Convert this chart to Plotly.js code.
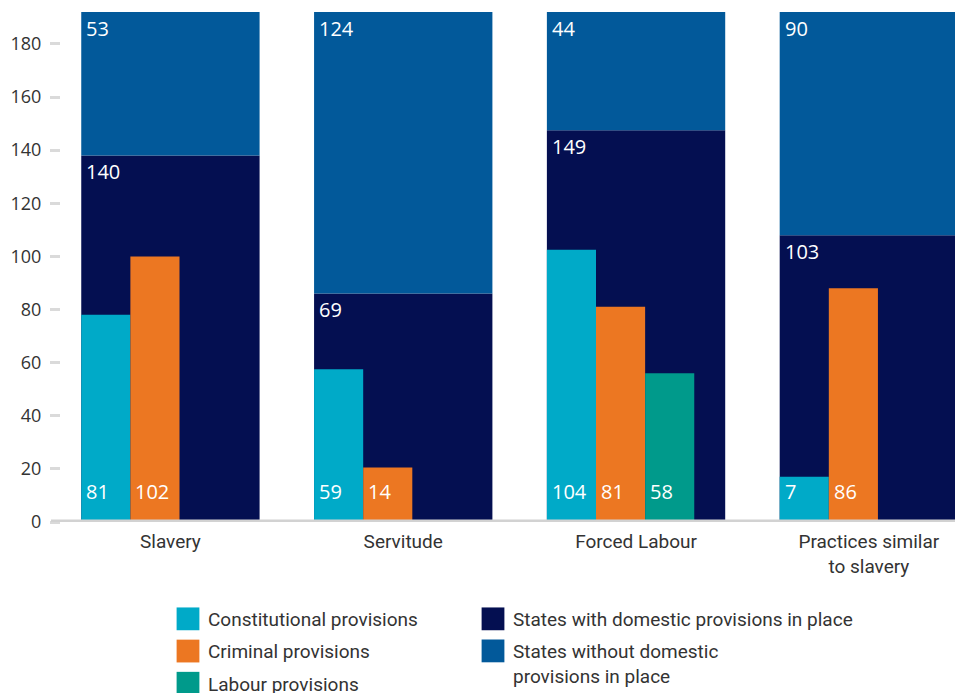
<!DOCTYPE html>
<html><head><meta charset="utf-8">
<script src="https://cdn.plot.ly/plotly-3.0.1.min.js"></script>
<style>html,body{margin:0;padding:0;background:#fff}#chart{width:955px;height:693px}</style>
</head><body><div id="chart"></div>
<script>
// ---- data (bar heights; printed labels as shown) ----
const categories = ['Slavery', 'Servitude', 'Forced Labour', 'Practices similar<br>to slavery'];
const constitutional = [78, 57.5, 102.5, 17];
const criminal = [100, 20.5, 81, 88];
const labour = [null, null, 56, null];
const withDomestic = [138, 86, 147.5, 108];
const withoutDomestic = [55, 107, 46, 85];
const constitutionalLabels = ['81', '59', '104', '7'];
const criminalLabels = ['102', '14', '81', '86'];
const labourLabels = ['', '', '58', ''];
const withDomesticLabels = ['140', '69', '149', '103'];
const withoutDomesticLabels = ['53', '124', '44', '90'];
const yTicks = [0, 20, 40, 60, 80, 100, 120, 140, 160, 180];

// ---- styles ----
const C_CONST = '#00aac8', C_CRIM = '#ec7722', C_LAB = '#009a8b', C_NAVY = '#040f51', C_BLUE = '#02599a';
const WIDE = 0.766, WIDE_OFF = -0.383, NARROW = 0.211;
const NUM_FONT = {family: 'Open Sans, sans-serif', size: 20, color: '#ffffff'};
const TXT_FONT = {family: 'Roboto, sans-serif', size: 19, color: '#333333'};

function wideBar(name, y, base, color, group) {
  const t = {type: 'bar', name: name, x: categories, y: y, width: WIDE, offset: WIDE_OFF,
    marker: {color: color, line: {width: 0}}, legend: 'legend2', legendgroup: group, hoverinfo: 'skip'};
  if (base) t.base = base;
  return t;
}
function narrowBar(name, y, j, color, group) {
  return {type: 'bar', name: name, x: categories, y: y, width: NARROW, offset: WIDE_OFF + j * NARROW,
    marker: {color: color, line: {width: 0}}, legend: 'legend', legendgroup: group, hoverinfo: 'skip'};
}

const traces = [
  wideBar('States with domestic provisions in place', withDomestic, null, C_NAVY, 'g4'),
  wideBar('States without domestic<br>provisions in place', withoutDomestic, withDomestic, C_BLUE, 'g5'),
  narrowBar('Constitutional provisions', constitutional, 0, C_CONST, 'g1'),
  narrowBar('Criminal provisions', criminal, 1, C_CRIM, 'g2'),
  narrowBar('Labour provisions', labour, 2, C_LAB, 'g3')
];

const annotations = [];
categories.forEach((c, i) => {
  annotations.push({x: i + WIDE_OFF, y: 1, yref: 'paper', xref: 'x', text: withoutDomesticLabels[i],
    showarrow: false, xanchor: 'left', yanchor: 'middle', xshift: 3, yshift: -16, font: NUM_FONT});
  annotations.push({x: i + WIDE_OFF, y: withDomestic[i], xref: 'x', yref: 'y', text: withDomesticLabels[i],
    showarrow: false, xanchor: 'left', yanchor: 'middle', xshift: 3, yshift: -16, font: NUM_FONT});
  [constitutionalLabels, criminalLabels, labourLabels].forEach((lab, j) => {
    if (!lab[i]) return;
    annotations.push({x: i + WIDE_OFF + j * NARROW, y: 0, xref: 'x', yref: 'y', text: lab[i],
      showarrow: false, xanchor: 'left', yanchor: 'middle', xshift: 3, yshift: 31, font: NUM_FONT});
  });
});

const layout = {
  width: 955, height: 693,
  margin: {l: 61, r: 0, t: 12, b: 171, autoexpand: false},
  barmode: 'overlay',
  paper_bgcolor: '#ffffff', plot_bgcolor: '#ffffff',
  xaxis: {type: 'category', range: [-0.47, 3.37], showline: false, ticks: '', showgrid: false,
    zeroline: false, tickfont: TXT_FONT, ticklabelstandoff: 6, tickangle: 0, automargin: false, fixedrange: true},
  yaxis: {range: [0, 192], tickvals: yTicks, ticks: 'outside', ticklen: 10, tickwidth: 3, tickcolor: '#dadada',
    showgrid: false, zeroline: false, showline: false, ticklabelstandoff: 5,
    tickfont: {family: 'Open Sans, sans-serif', size: 18, color: '#333333'}, automargin: false, fixedrange: true},
  shapes: [{type: 'line', xref: 'paper', yref: 'y', x0: -10 / 894, x1: 1, y0: 0, y1: 0,
    line: {color: '#d2d2d2', width: 5}, layer: 'above'}],
  annotations: annotations,
  showlegend: true,
  legend: {xref: 'container', yref: 'container', x: 168 / 955, y: 1 - 600 / 693, xanchor: 'left', yanchor: 'top',
    orientation: 'v', traceorder: 'grouped', font: TXT_FONT, bgcolor: 'rgba(0,0,0,0)', tracegroupgap: 4.5},
  legend2: {xref: 'container', yref: 'container', x: 473 / 955, y: 1 - 600 / 693, xanchor: 'left', yanchor: 'top',
    orientation: 'v', traceorder: 'grouped', font: TXT_FONT, bgcolor: 'rgba(0,0,0,0)', tracegroupgap: 4.5}
};

Plotly.newPlot('chart', traces, layout, {staticPlot: true, displayModeBar: false}).then(() => {
  document.querySelectorAll('.legendpoints path').forEach(p => {
    const t = p.getAttribute('transform') || '';
    const fill = (p.style.fill || '').replace(/\s/g, '');
    const lift = fill === 'rgb(2,89,154)' ? ' translate(0,-12.5)' : '';
    p.setAttribute('transform', t + lift + ' scale(1.9)');
  });
});
</script>
</body></html>
